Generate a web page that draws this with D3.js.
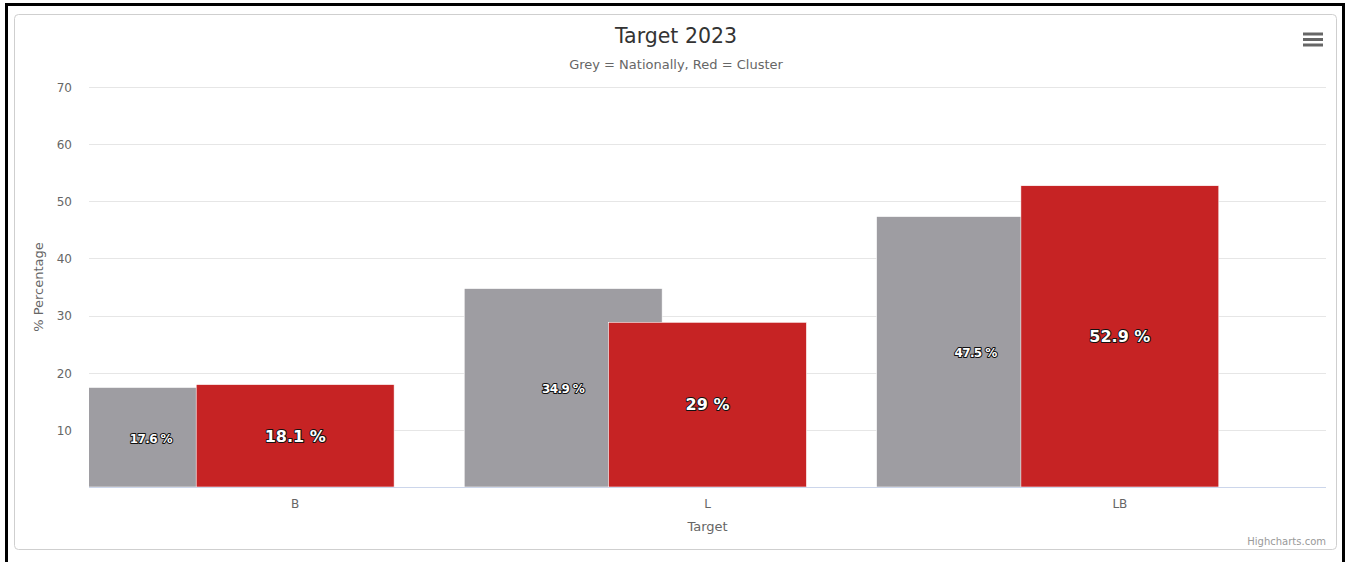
<!DOCTYPE html>
<html>
<head>
<meta charset="utf-8">
<script src="https://cdn.jsdelivr.net/npm/d3@7"></script>
<style>
  html, body { margin: 0; padding: 0; background: #fff; }
  svg { display: block; font-family: "DejaVu Sans", "Lucida Grande", sans-serif; }
</style>
</head>
<body>
<svg id="chart" width="1345" height="562"></svg>
<script>
// Chart data
const categories = ["B", "L", "LB"];
const nationally = [17.6, 34.9, 47.5];
const cluster = [18.1, 29, 52.9];
const yTicks = [10, 20, 30, 40, 50, 60, 70];

const W = 1345, H = 562;
const plot = { left: 89, right: 1326, top: 87, bottom: 487 };

const svg = d3.select("#chart");

// outer frame
svg.append("path")
  .attr("d", `M6.5,${H} V4.5 H1343.5 V${H}`)
  .attr("fill", "none").attr("stroke", "#000").attr("stroke-width", 3);

// chart container border
svg.append("rect")
  .attr("x", 14.5).attr("y", 14.5).attr("width", 1322).attr("height", 535)
  .attr("rx", 4).attr("fill", "#fff").attr("stroke", "#cfcfcf").attr("stroke-width", 1);

const x = d3.scaleBand().domain(categories).range([plot.left, plot.right]);
const y = d3.scaleLinear().domain([0, 70]).range([plot.bottom, plot.top]);

const bw = x.bandwidth();
const barW = bw * 0.48;
const greyShift = -bw * 0.35;

// gridlines
svg.append("g").selectAll("line").data(yTicks).join("line")
  .attr("x1", plot.left).attr("x2", plot.right)
  .attr("y1", d => Math.round(y(d)) + 0.5).attr("y2", d => Math.round(y(d)) + 0.5)
  .attr("stroke", "#e6e6e6").attr("stroke-width", 1);

// y axis labels
const yAxis = d3.axisLeft(y).tickValues(yTicks).tickSize(0).tickPadding(0);
const ya = svg.append("g").attr("transform", `translate(${plot.left - 17},0)`).call(yAxis);
ya.select(".domain").remove();
ya.selectAll("text").attr("font-size", 12).attr("fill", "#666")
  .attr("font-family", "DejaVu Sans, sans-serif").attr("dy", "0.36em");

// y axis title
svg.append("text")
  .attr("transform", `translate(43,${(plot.top + plot.bottom) / 2}) rotate(-90)`)
  .attr("text-anchor", "middle").attr("font-size", 13).attr("fill", "#666")
  .text("% Percentage");

// clip for bars
svg.append("clipPath").attr("id", "plotClip")
  .append("rect").attr("x", plot.left).attr("y", plot.top)
  .attr("width", plot.right - plot.left).attr("height", plot.bottom - plot.top);

const bars = svg.append("g").attr("clip-path", "url(#plotClip)");

// national (grey) bars, offset left
bars.selectAll("rect.nat").data(categories).join("rect")
  .attr("class", "nat")
  .attr("x", (c) => x(c) + bw / 2 + greyShift - barW / 2)
  .attr("y", (c, i) => y(nationally[i]) + 1)
  .attr("width", barW)
  .attr("height", (c, i) => y(0) - y(nationally[i]) - 1)
  .attr("fill", "#9e9da2").attr("stroke", "#fff").attr("stroke-width", 0.6);

// cluster (red) bars, centred
bars.selectAll("rect.clu").data(categories).join("rect")
  .attr("class", "clu")
  .attr("x", (c) => x(c) + bw / 2 - barW / 2)
  .attr("y", (c, i) => y(cluster[i]) + 1)
  .attr("width", barW)
  .attr("height", (c, i) => y(0) - y(cluster[i]) - 1)
  .attr("fill", "#c62324").attr("stroke", "#fff").attr("stroke-width", 0.6);

// x axis line
svg.append("line")
  .attr("x1", plot.left).attr("x2", plot.right)
  .attr("y1", plot.bottom + 0.5).attr("y2", plot.bottom + 0.5)
  .attr("stroke", "#ccd6eb").attr("stroke-width", 1);

// x axis labels
const xAxis = d3.axisBottom(x).tickSize(0).tickPadding(0);
const xa = svg.append("g").attr("transform", `translate(0,${plot.bottom + 17})`).call(xAxis);
xa.select(".domain").remove();
xa.selectAll("text").attr("font-size", 12).attr("fill", "#666")
  .attr("font-family", "DejaVu Sans, sans-serif").attr("dy", "0.36em");

svg.append("text")
  .attr("x", (plot.left + plot.right) / 2).attr("y", 531)
  .attr("text-anchor", "middle").attr("font-size", 13).attr("fill", "#666")
  .text("Target");

// data labels
function label(sel) {
  sel.attr("text-anchor", "middle").attr("dy", "0.36em")
    .attr("font-weight", "bold").attr("fill", "#fff")
    .attr("stroke", "#111").attr("stroke-width", 2).attr("stroke-linejoin", "round")
    .attr("paint-order", "stroke");
}
svg.append("g").selectAll("text").data(categories).join("text")
  .attr("x", c => x(c) + bw / 2 + greyShift)
  .attr("y", (c, i) => (y(nationally[i]) + y(0)) / 2 + 1.5)
  .attr("font-size", 12).attr("letter-spacing", -0.6)
  .text((c, i) => nationally[i] + " %")
  .call(label);

svg.append("g").selectAll("text").data(categories).join("text")
  .attr("x", c => x(c) + bw / 2)
  .attr("y", (c, i) => (y(cluster[i]) + y(0)) / 2 + 0.5)
  .attr("font-size", 16)
  .text((c, i) => cluster[i] + " %")
  .call(label);

// title and subtitle
svg.append("text")
  .attr("x", 676).attr("y", 43).attr("text-anchor", "middle")
  .attr("font-size", 20.5).attr("fill", "#333").text("Target 2023");
svg.append("text")
  .attr("x", 676).attr("y", 69).attr("text-anchor", "middle")
  .attr("font-size", 13).attr("fill", "#666").text("Grey = Nationally, Red = Cluster");

// menu icon
svg.append("g").selectAll("line").data([34, 39.5, 45]).join("line")
  .attr("x1", 1303).attr("x2", 1323).attr("y1", d => d).attr("y2", d => d)
  .attr("stroke", "#666").attr("stroke-width", 3);

// credits
svg.append("text")
  .attr("x", 1326).attr("y", 545).attr("text-anchor", "end")
  .attr("font-size", 10).attr("fill", "#999").text("Highcharts.com");
</script>
</body>
</html>
